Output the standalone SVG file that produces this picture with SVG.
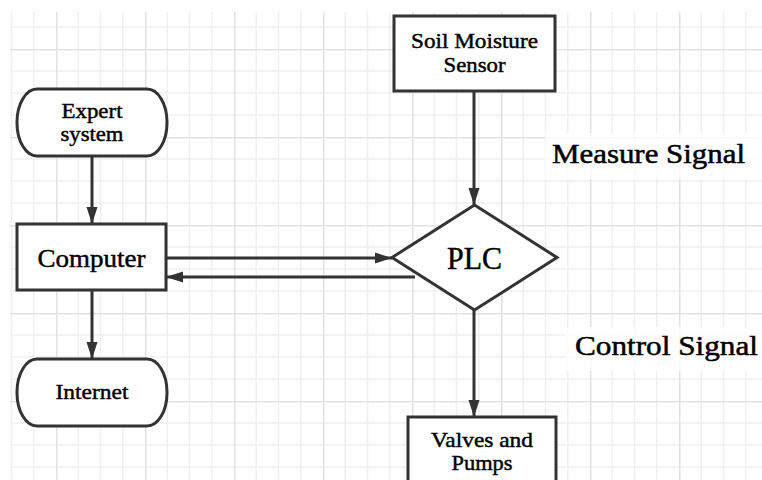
<svg xmlns="http://www.w3.org/2000/svg" width="762" height="480" viewBox="0 0 762 480">
<defs>
<pattern id="grid" x="56" y="49" width="89" height="88" patternUnits="userSpaceOnUse">
<path d="M22.25 0V88M44.5 0V88M66.75 0V88M0 22H89M0 44H89M0 66H89" stroke="#efefef" stroke-width="1.5" fill="none"/>
<path d="M0.75 0V88M0 0.75H89" stroke="#e2e2e2" stroke-width="1.5" fill="none"/>
</pattern>
<marker id="arr" markerWidth="18" markerHeight="12" refX="17" refY="6" orient="auto" markerUnits="userSpaceOnUse">
<path d="M0,0.5 L17,6 L0,11.5 Z" fill="#333"/>
</marker>
</defs>
<style>
.box{fill:#fff;stroke:#333;stroke-width:3}
.t{font-family:"Liberation Serif","Times New Roman",serif;fill:#000;stroke:#000;stroke-width:0.45;text-anchor:middle}
.lbl{font-family:"Liberation Serif","Times New Roman",serif;fill:#000;stroke:#000;stroke-width:0.5}
.c{fill:none;stroke:#333;stroke-width:3}
</style>
<rect width="762" height="480" fill="#fff"/>
<rect x="10" y="12" width="752" height="468" fill="url(#grid)"/>
<g id="label-measure">
<rect x="545" y="133" width="217" height="46" fill="#fff" opacity="0.8"/>
<text class="lbl" x="552" y="163" font-size="27" textLength="193" lengthAdjust="spacingAndGlyphs">Measure Signal</text>
</g>
<g id="label-control">
<rect x="565" y="327" width="197" height="44" fill="#fff" opacity="0.8"/>
<text class="lbl" x="575" y="355" font-size="27.5" textLength="183" lengthAdjust="spacingAndGlyphs">Control Signal</text>
</g>
<g id="connectors">
<line class="c" x1="92" y1="156" x2="92" y2="224" marker-end="url(#arr)"/>
<line class="c" x1="92" y1="290" x2="92" y2="359" marker-end="url(#arr)"/>
<line class="c" x1="166" y1="258" x2="392" y2="258" marker-end="url(#arr)"/>
<line class="c" x1="415" y1="277" x2="166" y2="277" marker-end="url(#arr)"/>
<line class="c" x1="474" y1="91" x2="474" y2="205" marker-end="url(#arr)"/>
<line class="c" x1="474" y1="310" x2="474" y2="417" marker-end="url(#arr)"/>
</g>
<g id="expert">
<rect class="box" x="17" y="89" width="150" height="67" rx="20" ry="33"/>
<text class="t" x="92" y="118" font-size="22" textLength="61" lengthAdjust="spacingAndGlyphs">Expert</text>
<text class="t" x="92" y="141" font-size="22" textLength="63" lengthAdjust="spacingAndGlyphs">system</text>
</g>
<g id="computer">
<rect class="box" x="17" y="224" width="149" height="66"/>
<text class="t" x="91.5" y="267" font-size="26" textLength="108" lengthAdjust="spacingAndGlyphs">Computer</text>
</g>
<g id="internet">
<rect class="box" x="17" y="359" width="150" height="67" rx="20" ry="33"/>
<text class="t" x="92" y="399" font-size="21.5" textLength="73" lengthAdjust="spacingAndGlyphs">Internet</text>
</g>
<g id="sensor">
<rect class="box" x="394" y="16" width="161" height="75"/>
<text class="t" x="474.5" y="48" font-size="22" textLength="127" lengthAdjust="spacingAndGlyphs">Soil Moisture</text>
<text class="t" x="474.5" y="72" font-size="22" textLength="62" lengthAdjust="spacingAndGlyphs">Sensor</text>
</g>
<g id="plc">
<polygon class="box" points="474.5,205 557,257.5 474.5,310 392,257.5"/>
<text class="t" x="474.5" y="269" font-size="31" textLength="55" lengthAdjust="spacingAndGlyphs">PLC</text>
</g>
<g id="valves">
<rect class="box" x="408" y="417" width="148" height="70"/>
<text class="t" x="482" y="447" font-size="22" textLength="102" lengthAdjust="spacingAndGlyphs">Valves and</text>
<text class="t" x="482" y="470" font-size="22" textLength="61" lengthAdjust="spacingAndGlyphs">Pumps</text>
</g>
</svg>
